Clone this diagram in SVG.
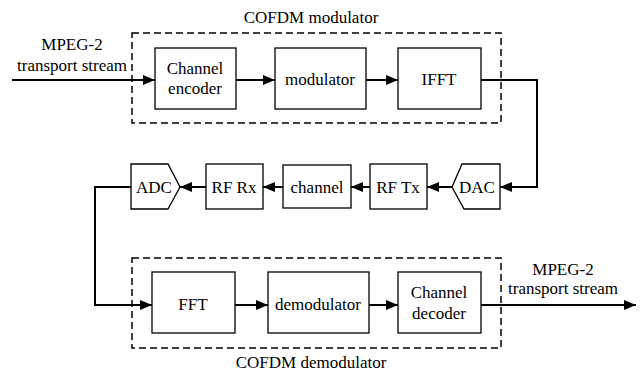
<svg xmlns="http://www.w3.org/2000/svg" width="643" height="371" viewBox="0 0 643 371">
  <defs>
    <marker id="arrow" viewBox="0 0 12 10" refX="12" refY="5" markerWidth="12" markerHeight="10" markerUnits="userSpaceOnUse" orient="auto">
      <path d="M0,0 L12,5 L0,10 Z" fill="#000"/>
    </marker>
  </defs>

  <rect width="643" height="371" fill="#fff"/>

  <!-- all captions share one serif face; set once here and inherited -->
  <g id="diagram" font-family="Times New Roman, Liberation Serif, serif" font-size="17px" text-anchor="middle">

    <!-- dashed group outlines with their captions -->
    <g id="cofdm-modulator">
      <rect x="132" y="33" width="369" height="90" fill="none" stroke="#000" stroke-width="1.5" stroke-dasharray="7 4"/>
      <text x="311" y="23">COFDM modulator</text>
    </g>
    <g id="cofdm-demodulator">
      <rect x="132" y="258" width="369" height="90" fill="none" stroke="#000" stroke-width="1.5" stroke-dasharray="7 4"/>
      <text x="311" y="368">COFDM demodulator</text>
    </g>

    <g id="input-label">
      <text x="72" y="50">MPEG-2</text>
      <text x="72" y="71">transport stream</text>
    </g>
    <g id="output-label">
      <text x="563" y="275">MPEG-2</text>
      <text x="563" y="294">transport stream</text>
    </g>

    <!-- processing blocks: white fill, thin black outline -->
    <g id="nodes" fill="#fff" stroke="#000" stroke-width="1.3">
      <g id="channel-encoder">
        <rect x="155" y="48" width="81" height="61"/>
        <text x="195" y="74" fill="#000" stroke="none">Channel</text>
        <text x="195" y="94" fill="#000" stroke="none">encoder</text>
      </g>
      <g id="modulator">
        <rect x="275" y="48" width="91" height="61"/>
        <text x="320" y="85" fill="#000" stroke="none">modulator</text>
      </g>
      <g id="ifft">
        <rect x="398" y="48" width="83" height="61"/>
        <text x="439" y="85" fill="#000" stroke="none">IFFT</text>
      </g>

      <g id="dac">
        <polygon points="462,164 500,164 500,209 464,209 452,187"/>
        <text x="477" y="193" fill="#000" stroke="none">DAC</text>
      </g>
      <g id="rf-tx">
        <rect x="370" y="164" width="57" height="45"/>
        <text x="398" y="193" fill="#000" stroke="none">RF Tx</text>
      </g>
      <g id="channel">
        <rect x="283" y="165" width="68" height="43"/>
        <text x="317" y="193" fill="#000" stroke="none">channel</text>
      </g>
      <g id="rf-rx">
        <rect x="206" y="164" width="57" height="45"/>
        <text x="234" y="193" fill="#000" stroke="none">RF Rx</text>
      </g>
      <g id="adc">
        <polygon points="131,164 168,164 180,187 168,209 131,209"/>
        <text x="154" y="193" fill="#000" stroke="none">ADC</text>
      </g>

      <g id="fft">
        <rect x="152" y="272" width="83" height="61"/>
        <text x="193" y="310" fill="#000" stroke="none">FFT</text>
      </g>
      <g id="demodulator">
        <rect x="268" y="272" width="101" height="61"/>
        <text x="318" y="310" fill="#000" stroke="none">demodulator</text>
      </g>
      <g id="channel-decoder">
        <rect x="398" y="272" width="83" height="61"/>
        <text x="439" y="298" fill="#000" stroke="none">Channel</text>
        <text x="439" y="319" fill="#000" stroke="none">decoder</text>
      </g>
    </g>
  </g>

  <!-- signal flow -->
  <g id="connectors" fill="none" stroke="#000" stroke-width="2">
    <path d="M12,80 H155" marker-end="url(#arrow)"/>
    <path d="M236,80 H275" marker-end="url(#arrow)"/>
    <path d="M366,80 H398" marker-end="url(#arrow)"/>
    <path d="M481,80 H537 V187 H500" marker-end="url(#arrow)"/>
    <path d="M452,187 H427" marker-end="url(#arrow)"/>
    <path d="M370,187 H351" marker-end="url(#arrow)"/>
    <path d="M283,187 H263" marker-end="url(#arrow)"/>
    <path d="M206,187 H180" marker-end="url(#arrow)"/>
    <path d="M131,187 H95 V305 H152" marker-end="url(#arrow)"/>
    <path d="M235,305 H268" marker-end="url(#arrow)"/>
    <path d="M369,305 H398" marker-end="url(#arrow)"/>
    <path d="M481,305 H636" marker-end="url(#arrow)"/>
  </g>
</svg>
